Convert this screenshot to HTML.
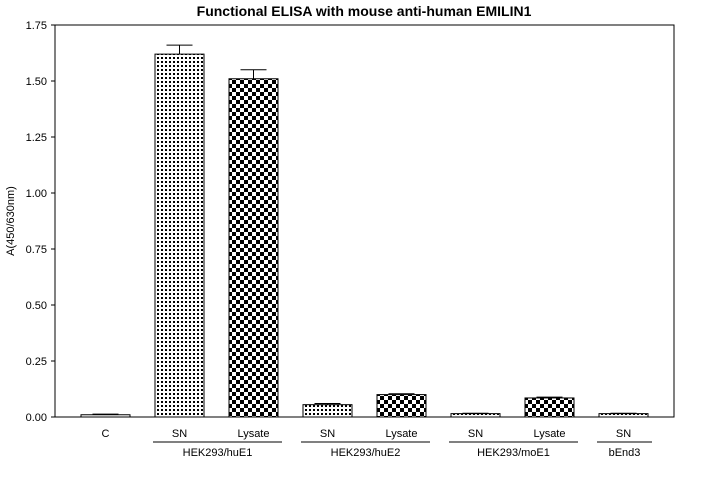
<!DOCTYPE html>
<html><head><meta charset="utf-8"><style>
body{margin:0;background:#fff;}
svg{display:block;font-family:"Liberation Sans",Arial,sans-serif;}
</style></head><body>
<svg id="chart" width="701" height="483" viewBox="0 0 701 483">
<defs>
<pattern id="dots" width="4" height="4" patternUnits="userSpaceOnUse"><rect width="4" height="4" fill="#fff"/><rect x="1" y="1" width="2" height="2" fill="#000"/></pattern>
<pattern id="check" width="8" height="8" patternUnits="userSpaceOnUse"><rect width="8" height="8" fill="#fff"/><rect width="4" height="4" fill="#000"/><rect x="4" y="4" width="4" height="4" fill="#000"/></pattern>
</defs>
<text x="364" y="16" text-anchor="middle" font-size="14" font-weight="bold">Functional ELISA with mouse anti-human EMILIN1</text>
<rect x="55" y="25" width="619" height="392" fill="none" stroke="#000" stroke-width="1"/>
<text transform="translate(14,221) rotate(-90)" text-anchor="middle" font-size="11">A(450/630nm)</text>
<g id="yaxis"></g><g id="bars"></g><g id="xlabels"></g>
</svg>
<script>
const categories=["C","SN","Lysate","SN","Lysate","SN","Lysate","SN"];
const values=[0.01,1.62,1.51,0.055,0.10,0.015,0.085,0.015];
const errors=[0.003,0.04,0.04,0.005,0.004,0.002,0.004,0.002];
const patterns=["dots","dots","check","dots","check","dots","check","dots"];
const groups=[{name:"HEK293/huE1",from:1,to:2},{name:"HEK293/huE2",from:3,to:4},{name:"HEK293/moE1",from:5,to:6},{name:"bEnd3",from:7,to:7}];
const yTicks=[0,0.25,0.5,0.75,1.0,1.25,1.5,1.75];
const NS="http://www.w3.org/2000/svg";
const y=v=>417-v/0.25*56;
const xc=i=>105.5+i*74;
const bw=49;
function mk(tag,attrs,parent){const e=document.createElementNS(NS,tag);for(const k in attrs)e.setAttribute(k,attrs[k]);parent.appendChild(e);return e;}
const ya=document.getElementById('yaxis');
yTicks.forEach(t=>{
 const l=mk('line',{x1:51,x2:55,y1:y(t),y2:y(t),stroke:'#000'},ya);
 
 
 const tx=mk('text',{x:47,y:y(t)+4,'text-anchor':'end','font-size':11},ya);
 tx.textContent=t.toFixed(2);
 
 
});
const bg=document.getElementById('bars');
values.forEach((v,i)=>{
 const r=mk('rect',{x:xc(i)-bw/2,y:y(v),width:bw,height:417-y(v),fill:'url(#'+patterns[i]+')',stroke:'#000','stroke-width':1},bg);
 
 
 const top=y(v+errors[i]);
 const e1=mk('line',{x1:xc(i),x2:xc(i),y1:y(v),y2:top,stroke:'#000'},bg);
 
 
 const e2=mk('line',{x1:xc(i)-13,x2:xc(i)+13,y1:top,y2:top,stroke:'#000'},bg);
 
 
 const t=mk('text',{x:xc(i),y:437,'text-anchor':'middle','font-size':11},document.getElementById('xlabels'));
 t.textContent=categories[i];
 
 
});
const xl=document.getElementById('xlabels');
groups.forEach(g=>{
 const x1=xc(g.from)-bw/2-2,x2=xc(g.to)+bw/2+4;
 const l=mk('line',{x1:x1,x2:x2,y1:442,y2:442,stroke:'#000'},xl);
 
 
 const t=mk('text',{x:(x1+x2)/2,y:456,'text-anchor':'middle','font-size':11},xl);
 t.textContent=g.name;
 
 
});
</script>
</body></html>
